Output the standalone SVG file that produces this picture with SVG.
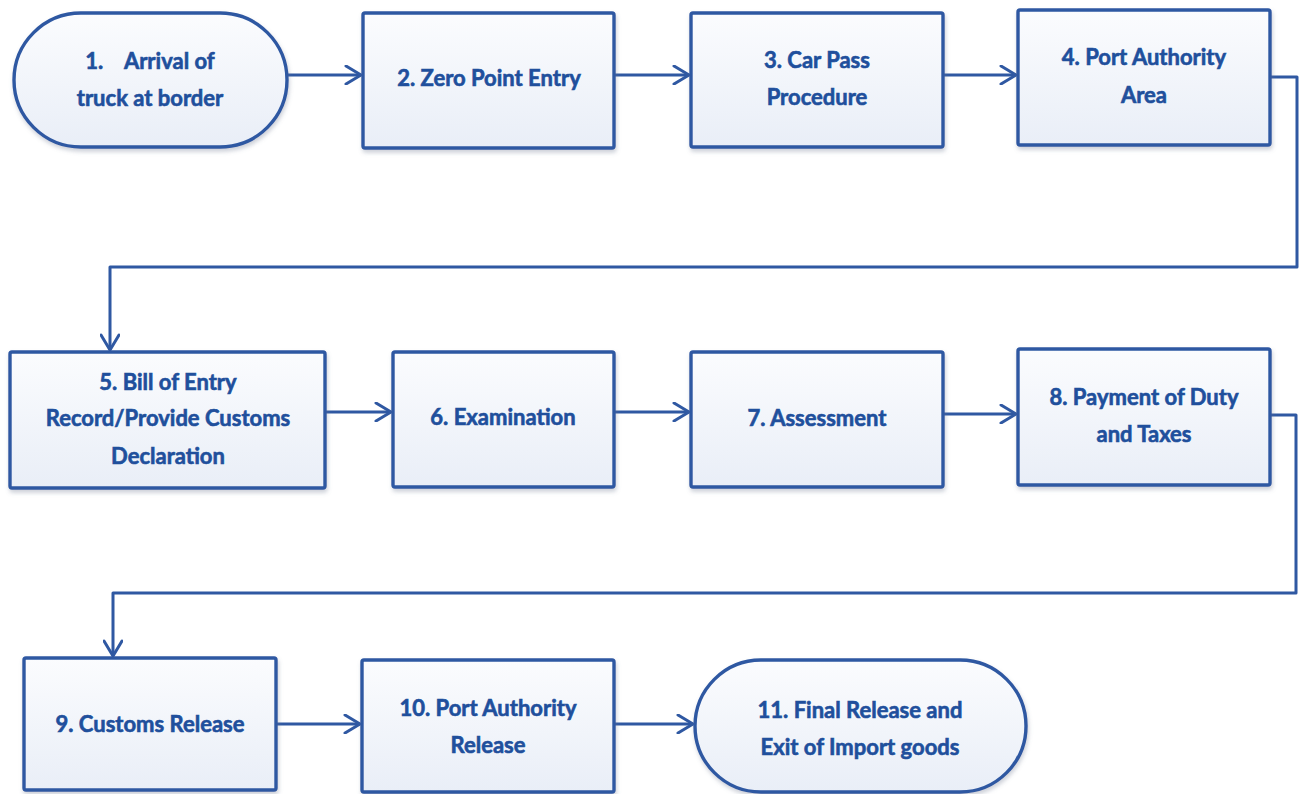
<svg xmlns="http://www.w3.org/2000/svg" width="1301" height="794" viewBox="0 0 1301 794">
  <defs>
    <linearGradient id="boxFill" x1="0" y1="0" x2="0" y2="1">
      <stop offset="0" stop-color="#fbfcfe"/>
      <stop offset="1" stop-color="#e9eef7"/>
    </linearGradient>
    <filter id="shadow" x="-10%" y="-10%" width="120%" height="130%">
      <feDropShadow dx="1" dy="3" stdDeviation="2" flood-color="#6d7a90" flood-opacity="0.35"/>
    </filter>
    <marker id="arrow" viewBox="0 0 20 20" refX="17" refY="10" markerWidth="20" markerHeight="20" markerUnits="userSpaceOnUse" orient="auto">
      <path d="M2,1 L17,10 L2,19" fill="none" stroke="#2f58a2" stroke-width="3" stroke-linecap="round" stroke-linejoin="round"/>
    </marker>
    <style>
      .box { fill: url(#boxFill); stroke: #2f58a2; stroke-width: 3.4; filter: url(#shadow); }
      .lbl { font-family: Lato, "Open Sans", "Liberation Sans", sans-serif; font-weight: bold; font-size: 22px; fill: #204f9c; stroke: #204f9c; stroke-width: 0.6; text-anchor: middle; }
      .conn { fill: none; stroke: #2f58a2; stroke-width: 3; stroke-linejoin: round; }
    </style>
  </defs>

  <g id="connectors">
    <path class="conn" d="M287,75 H361" marker-end="url(#arrow)"/>
    <path class="conn" d="M614,75 H689" marker-end="url(#arrow)"/>
    <path class="conn" d="M943,75 H1016" marker-end="url(#arrow)"/>
    <path class="conn" d="M1270,77 H1297 V267 H110 V350" marker-end="url(#arrow)"/>
    <path class="conn" d="M325,412 H391" marker-end="url(#arrow)"/>
    <path class="conn" d="M614,412 H689" marker-end="url(#arrow)"/>
    <path class="conn" d="M943,414 H1016" marker-end="url(#arrow)"/>
    <path class="conn" d="M1270,415 H1296 V593 H113 V656" marker-end="url(#arrow)"/>
    <path class="conn" d="M276,724 H360" marker-end="url(#arrow)"/>
    <path class="conn" d="M614,724 H693" marker-end="url(#arrow)"/>
  </g>

  <g id="node1">
    <rect class="box" x="14" y="13" width="273" height="134" rx="67" ry="67"/>
    <text class="lbl" x="150" y="69" xml:space="preserve">1.    Arrival of</text>
    <text class="lbl" x="150" y="106">truck at border</text>
  </g>
  <g id="node2">
    <rect class="box" x="363" y="13" width="251" height="135" rx="2"/>
    <text class="lbl" x="489" y="86">2. Zero Point Entry</text>
  </g>
  <g id="node3">
    <rect class="box" x="691" y="13" width="252" height="134" rx="2"/>
    <text class="lbl" x="817" y="68">3. Car Pass</text>
    <text class="lbl" x="817" y="105">Procedure</text>
  </g>
  <g id="node4">
    <rect class="box" x="1018" y="10" width="252" height="135" rx="2"/>
    <text class="lbl" x="1144" y="65">4. Port Authority</text>
    <text class="lbl" x="1144" y="103">Area</text>
  </g>

  <g id="node5">
    <rect class="box" x="10" y="352" width="315" height="136" rx="2"/>
    <text class="lbl" x="168" y="390">5. Bill of Entry</text>
    <text class="lbl" x="168" y="426">Record/Provide Customs</text>
    <text class="lbl" x="168" y="464">Declaration</text>
  </g>
  <g id="node6">
    <rect class="box" x="393" y="352" width="221" height="135" rx="2"/>
    <text class="lbl" x="503" y="425">6. Examination</text>
  </g>
  <g id="node7">
    <rect class="box" x="691" y="352" width="252" height="135" rx="2"/>
    <text class="lbl" x="817" y="426">7. Assessment</text>
  </g>
  <g id="node8">
    <rect class="box" x="1018" y="349" width="252" height="136" rx="2"/>
    <text class="lbl" x="1144" y="405">8. Payment of Duty</text>
    <text class="lbl" x="1144" y="442">and Taxes</text>
  </g>

  <g id="node9">
    <rect class="box" x="24" y="658" width="252" height="132" rx="2"/>
    <text class="lbl" x="150" y="732">9. Customs Release</text>
  </g>
  <g id="node10">
    <rect class="box" x="362" y="660" width="252" height="132" rx="2"/>
    <text class="lbl" x="488" y="716">10. Port Authority</text>
    <text class="lbl" x="488" y="753">Release</text>
  </g>
  <g id="node11">
    <rect class="box" x="695" y="660" width="331" height="132" rx="66" ry="66"/>
    <text class="lbl" x="860" y="718">11. Final Release and</text>
    <text class="lbl" x="860" y="755">Exit of Import goods</text>
  </g>
</svg>
